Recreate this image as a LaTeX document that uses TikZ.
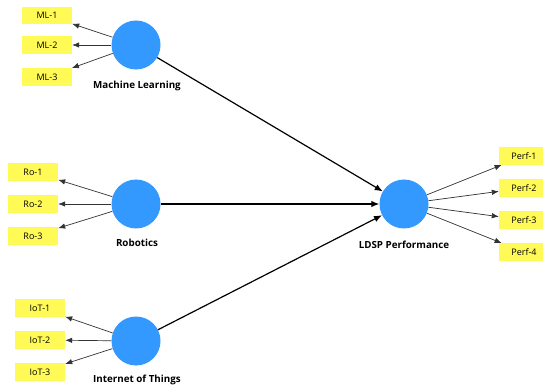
\documentclass[tikz,border=0pt]{standalone}
\usepackage{fontspec}
\setmainfont{Open Sans}
\usetikzlibrary{arrows.meta}
\definecolor{lvblue}{RGB}{51,153,255}
\definecolor{indyellow}{RGB}{255,250,85}
\begin{document}
\begin{tikzpicture}[x=1pt,y=-1pt,
  latent/.style={circle,fill=lvblue,draw=none,minimum size=49pt,inner sep=0pt},
  indicator/.style={rectangle,fill=indyellow,draw=none,minimum width=50pt,minimum height=17.5pt,inner sep=0pt,font=\fontsize{9}{10}\selectfont},
  lvname/.style={font=\fontsize{9.8}{11}\selectfont\bfseries},
  loading/.style={draw=black!80,line width=0.7pt,-{Latex[length=7pt,width=5.5pt]}},
  path/.style={draw=black,line width=1.2pt,-{Latex[length=8pt,width=6.5pt]}}]
\useasboundingbox (0,0) rectangle (543,387);
\clip (0,0) rectangle (543,387);
\fill[white] (0,0) rectangle (543,387);

% latent variables
\node[latent] (ml) at (136,45) {};
\node[latent] (ro) at (136,204) {};
\node[latent] (iot) at (136,341) {};
\node[latent] (ldsp) at (404,204) {};

\node[lvname] (mlname) at (137,86) {Machine Learning};
\node[lvname] (roname) at (137,243) {Robotics};
\node[lvname] (iotname) at (137,380) {Internet of Things};
\node[lvname] (ldspname) at (404,245) {LDSP Performance};

% indicators
\node[indicator] (ml1) at (47,15.5) {ML-1};
\node[indicator] (ml2) at (47,45) {ML-2};
\node[indicator] (ml3) at (47,77) {ML-3};
\node[indicator] (ro1) at (33,172) {Ro-1};
\node[indicator] (ro2) at (33,204) {Ro-2};
\node[indicator] (ro3) at (33,236) {Ro-3};
\node[indicator] (iot1) at (40,308) {IoT-1};
\node[indicator] (iot2) at (40,340) {IoT-2};
\node[indicator] (iot3) at (40,372) {IoT-3};
\node[indicator] (p1) at (524,156) {Perf-1};
\node[indicator] (p2) at (524,188) {Perf-2};
\node[indicator] (p3) at (524,220) {Perf-3};
\node[indicator] (p4) at (524,252) {Perf-4};

% outer loadings
\foreach \s/\t in {ml/ml1,ml/ml2,ml/ml3,ro/ro1,ro/ro2,ro/ro3,iot/iot1,iot/iot2,iot/iot3,ldsp/p1,ldsp/p2,ldsp/p3,ldsp/p4}
  \draw[loading] (\s) -- (\t);

% structural paths
\draw[path] (ml) -- (ldsp);
\draw[path] (ro) -- (ldsp);
\draw[path] (iot) -- (ldsp);
\end{tikzpicture}
\end{document}
